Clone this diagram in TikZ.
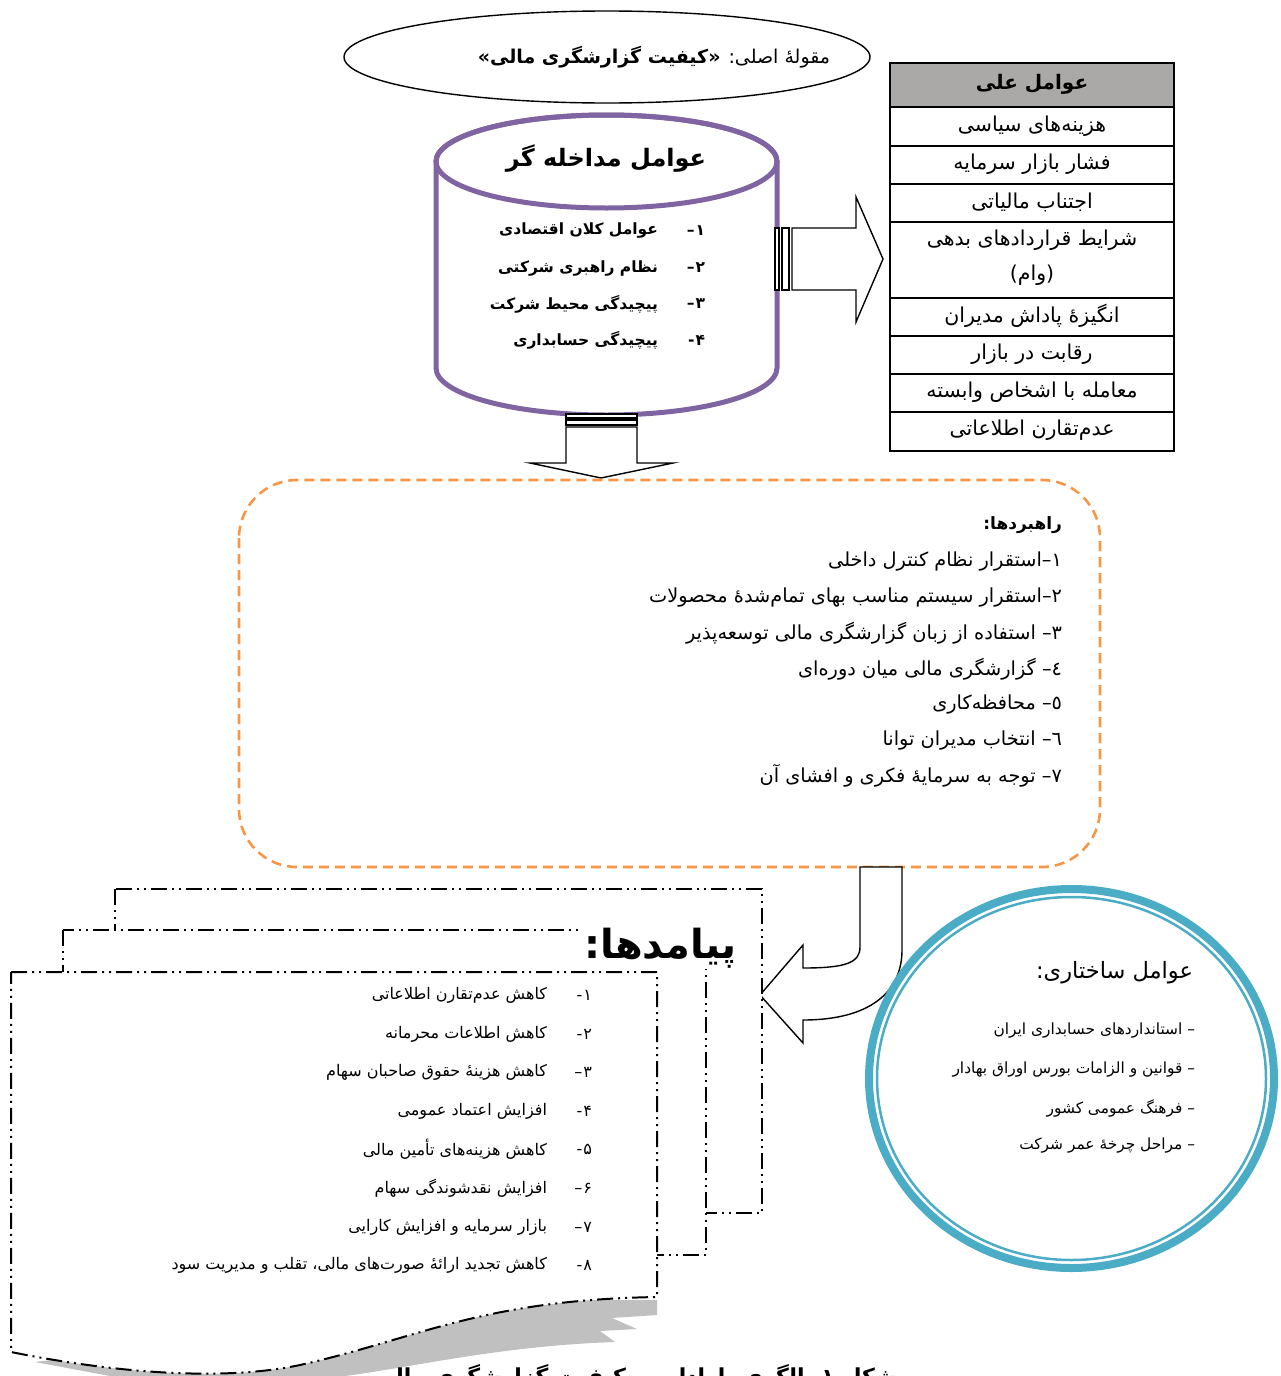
\documentclass[tikz,border=0pt]{standalone}
\usepackage{fontspec}
\newfontfamily\fa[Script=Arabic]{DejaVu Sans}
\TeXXeTstate=1
\usetikzlibrary{shapes.geometric}
\newcommand\RL[1]{\beginR #1\endR}
\newcommand\hz{ه^^^^0654}
\definecolor{cylpurple}{HTML}{8064A2}
\definecolor{dashorange}{HTML}{F79646}
\definecolor{ringblue}{HTML}{4BACC6}
\definecolor{hdrgray}{HTML}{ABA9A7}
\definecolor{shadowgray}{HTML}{C0C0C0}
\tikzset{
  every node/.style={inner sep=0pt, outer sep=0pt},
  tabtxt/.style={font=\fa\fontsize{20.5}{35}\selectfont, align=center},
  tabhead/.style={font=\fa\bfseries\fontsize{20}{24}\selectfont},
  cylitem/.style={font=\fa\bfseries\fontsize{15.5}{18}\selectfont, anchor=east},
  stratitem/.style={font=\fa\fontsize{19.3}{22}\selectfont, anchor=east},
  outitem/.style={font=\fa\fontsize{16}{18}\selectfont, anchor=east},
  structitem/.style={font=\fa\fontsize{15.4}{18}\selectfont, anchor=east},
  docframe/.style={line width=2, fill=white, dash pattern=on 16pt off 5pt on 2pt off 5pt on 2pt off 5pt},
  blockarrow/.style={line width=1.4, fill=white, line join=miter},
  tabline/.style={line width=1.6}
}
\begin{document}
\begin{tikzpicture}[x=1pt,y=-1pt]
\useasboundingbox (0,0) rectangle (1280,1376);

% ---------- top oval ----------
\node[draw, ellipse, line width=1.4, minimum width=526pt, minimum height=92pt] (mainoval) at (607,57) {};
\node[font=\fa\fontsize{19}{24}\selectfont] (maintxt) at (654,57) {\RL{مقول\hz{} اصلی: \textbf{«کیفیت گزارشگری مالی»}}};

% ---------- cylinder ----------
\draw[cylpurple, line width=5, fill=white] (436,161.5) -- (436,368)
   arc[start angle=180, end angle=0, x radius=170.5, y radius=47]
   -- (777,161.5) arc[start angle=0, end angle=-180, x radius=170.5, y radius=46.5] -- cycle;
\draw[cylpurple, line width=5] (606.5,161.5) ellipse[x radius=170.5, y radius=46.5];
\node[font=\fa\bfseries\fontsize{24}{28}\selectfont] (cyltitle) at (606,159) {\RL{عوامل مداخله گر}};
\node[cylitem] (cn1) at (705,231) {\RL{۱\kern1pt–}};
\node[cylitem] (cn2) at (705,268) {\RL{۲\kern1pt–}};
\node[cylitem] (cn3) at (705,304) {\RL{۳\kern1pt–}};
\node[cylitem] (cn4) at (705,340) {\RL{۴\kern1pt-}};
\node[cylitem] (ct1) at (658,231) {\RL{عوامل کلان اقتصادی}};
\node[cylitem] (ct2) at (658,268) {\RL{نظام راهبری شرکتی}};
\node[cylitem] (ct3) at (658,304) {\RL{پیچیدگی محیط شرکت}};
\node[cylitem] (ct4) at (658,340) {\RL{پیچیدگی حسابداری}};

% ---------- right striped arrow ----------
\draw[blockarrow] (775,228) rectangle (779,290);
\draw[blockarrow] (782,228) rectangle (789,290);
\draw[blockarrow] (792,228) -- (856,228) -- (856,197) -- (883,259) -- (856,322) -- (856,290) -- (792,290) -- cycle;

% ---------- down striped arrow ----------
\draw[blockarrow] (566,414) rectangle (637,418);
\draw[blockarrow] (566,420) rectangle (637,425);
\draw[blockarrow] (566,427) -- (566,463) -- (530,463) -- (601,478) -- (673,463) -- (637,463) -- (637,427) -- cycle;

% ---------- table ----------
\fill[hdrgray] (890,63) rectangle (1174,107);
\draw[tabline] (890,63) rectangle (1174,451);
\foreach \yy in {107,146,184,222,298,336,374,412}
  \draw[tabline] (890,\yy) -- (1174,\yy);
\node[tabhead] (th) at (1032,84) {\RL{عوامل علی}};
\node[tabtxt] (tr1) at (1032,126) {\RL{هزینه^^^^200cهای سیاسی}};
\node[tabtxt] (tr2) at (1032,164) {\RL{فشار بازار سرمایه}};
\node[tabtxt] (tr3) at (1032,202) {\RL{اجتناب مالیاتی}};
\node[tabtxt] (tr4) at (1032,258) {\RL{شرایط قراردادهای بدهی}\\\RL{(وام)}};
\node[tabtxt] (tr5) at (1032,316) {\RL{انگیز\hz{} پاداش مدیران}};
\node[tabtxt] (tr6) at (1032,354) {\RL{رقابت در بازار}};
\node[tabtxt] (tr7) at (1032,392) {\RL{معامله با اشخاص وابسته}};
\node[tabtxt] (tr8) at (1032,430) {\RL{عدم^^^^200cتقارن اطلاعاتی}};

% ---------- strategies box ----------
\draw[dashorange, line width=2.6, dash pattern=on 10pt off 6pt, rounded corners=58pt] (239,480) rectangle (1100,867);
\node[stratitem, font=\fa\bfseries\fontsize{17}{22}\selectfont] (st0) at (1062,525) {\RL{راهبردها:}};
\node[stratitem] (st1) at (1062,562) {\RL{۱\kern0pt–\kern0pt استقرار نظام کنترل داخلی}};
\node[stratitem] (st2) at (1062,598) {\RL{۲\kern0pt–\kern0pt استقرار سیستم مناسب بهای تمام^^^^200cشد\hz{} محصولات}};
\node[stratitem] (st3) at (1062,633) {\RL{۳\kern0pt– استفاده از زبان گزارشگری مالی توسعه^^^^200cپذیر}};
\node[stratitem] (st4) at (1062,669) {\RL{٤\kern0pt– گزارشگری مالی میان دوره^^^^200cای}};
\node[stratitem] (st5) at (1062,705) {\RL{٥\kern0pt– محافظه^^^^200cکاری}};
\node[stratitem] (st6) at (1062,741) {\RL{٦\kern0pt– انتخاب مدیران توانا}};
\node[stratitem] (st7) at (1062,776) {\RL{۷\kern0pt– توجه به سرمای\hz{} فکری و افشای آن}};

% ---------- curved arrow ----------
\draw[blockarrow] (860,867) -- (860,947) .. controls (860,963) and (845,968) .. (803,968)
   -- (803,945) -- (760,995) -- (803,1043) -- (803,1020)
   .. controls (870,1020) and (902,992) .. (902,950) -- (902,867) -- cycle;

% ---------- structural circle ----------
\draw[ringblue, line width=8, fill=white] (1071.5,1078.5) ellipse[x radius=202.5, y radius=189.5];
\draw[ringblue, line width=2.5] (1071.5,1078.5) ellipse[x radius=194.5, y radius=181.5];
\node[structitem, font=\fa\fontsize{22.5}{26}\selectfont] (sf0) at (1193,973) {\RL{عوامل ساختاری:}};
\node[structitem] (sf1) at (1195,1031) {\RL{– استانداردهای حسابداری ایران}};
\node[structitem] (sf2) at (1195,1070) {\RL{– قوانین و الزامات بورس اوراق بهادار}};
\node[structitem] (sf3) at (1195,1108) {\RL{– فرهنگ عمومی کشور}};
\node[structitem] (sf4) at (1195,1146) {\RL{– مراحل چرخ\hz{} عمر شرکت}};

% ---------- outcomes documents ----------
\draw[docframe] (115,889) rectangle (762,1213);
\draw[docframe] (63,930) rectangle (706,1255);
\fill[shadowgray] (540,1300) -- (657,1300) -- (657,1315) -- (612,1318) -- (637,1329) -- (600,1331) -- (615,1342)
   .. controls (500,1346) and (420,1366) .. (345,1376) -- (110,1376) -- (35,1362) -- cycle;
\draw[docframe] (11,972) -- (657,972) -- (657,1297)
   .. controls (480,1300) and (420,1338) .. (300,1365)
   .. controls (210,1384) and (90,1368) .. (11,1352) -- cycle;
\node[font=\fa\bfseries\fontsize{40}{44}\selectfont, fill=white, inner sep=1pt, anchor=east] (outtitle) at (738,948) {\RL{پیامدها:}};
\node[outitem] (on1) at (592,995) {\RL{۱\kern1pt-}};
\node[outitem] (on2) at (592,1034) {\RL{۲\kern1pt-}};
\node[outitem] (on3) at (592,1072) {\RL{۳\kern1pt–}};
\node[outitem] (on4) at (592,1111) {\RL{۴\kern1pt-}};
\node[outitem] (on5) at (592,1149) {\RL{۵\kern1pt-}};
\node[outitem] (on6) at (592,1188) {\RL{۶\kern1pt–}};
\node[outitem] (on7) at (592,1227) {\RL{۷\kern1pt–}};
\node[outitem] (on8) at (592,1265) {\RL{۸\kern1pt-}};
\node[outitem] (ot1) at (547,995) {\RL{کاهش عدم^^^^200cتقارن اطلاعاتی}};
\node[outitem] (ot2) at (547,1034) {\RL{کاهش اطلاعات محرمانه}};
\node[outitem] (ot3) at (547,1072) {\RL{کاهش هزین\hz{} حقوق صاحبان سهام}};
\node[outitem] (ot4) at (547,1111) {\RL{افزایش اعتماد عمومی}};
\node[outitem] (ot5) at (547,1149) {\RL{کاهش هزینه^^^^200cهای تأمین مالی}};
\node[outitem] (ot6) at (547,1188) {\RL{افزایش نقدشوندگی سهام}};
\node[outitem] (ot7) at (547,1227) {\RL{بازار سرمایه و افزایش کارایی}};
\node[outitem] (ot8) at (547,1265) {\RL{کاهش تجدید ارائ\hz{} صورت^^^^200cهای مالی، تقلب و مدیریت سود}};

% ---------- caption (cut off at page bottom, as in the reference) ----------
\begin{scope}
\clip (0,0) rectangle (1280,1376);
\node[font=\fa\bfseries\fontsize{22}{26}\selectfont, anchor=base] (caption) at (635,1384) {\RL{شکل ۱- الگوی پارادایمی کیفیت گزارشگری مالی}};
\end{scope}
\end{tikzpicture}
\end{document}
